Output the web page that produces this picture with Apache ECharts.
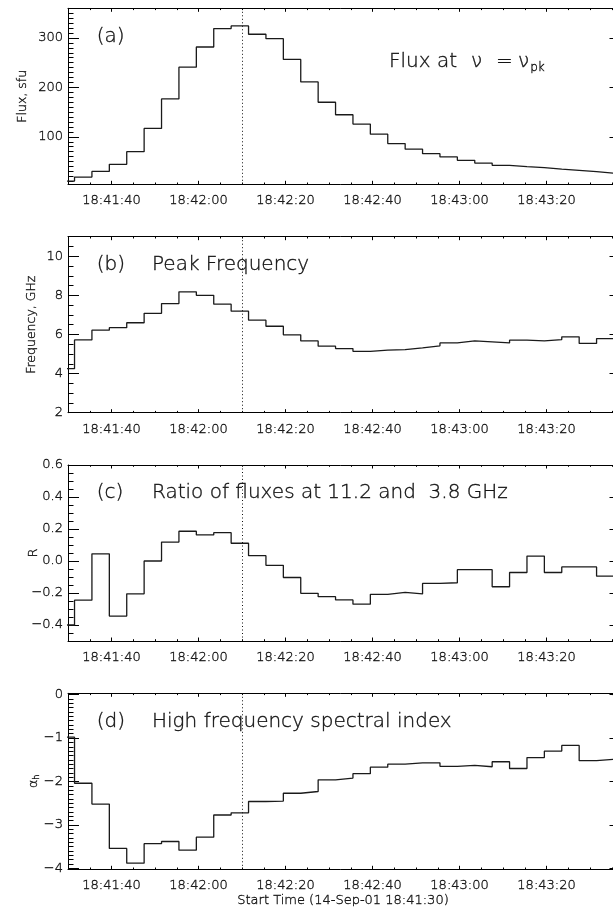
<!DOCTYPE html>
<html>
<head>
<meta charset="utf-8">
<script src="https://cdn.jsdelivr.net/npm/echarts@6/dist/echarts.min.js"></script>
<style>
  html, body { margin: 0; padding: 0; background: #ffffff; }
  #chart { width: 613px; height: 911px; }
</style>
</head>
<body>
<div id="chart"></div>
<script>
// Bin centres in seconds after 18:41:00 (4 s integration bins)
const binCentres = [29.5, 33.5, 37.5, 41.5, 45.5, 49.5, 53.5, 57.5, 61.5, 65.5, 69.5, 73.5,
  77.5, 81.5, 85.5, 89.5, 93.5, 97.5, 101.5, 105.5, 109.5, 113.5, 117.5, 121.5,
  125.5, 129.5, 133.5, 137.5, 141.5, 145.5, 149.5, 153.5];
const binHalfWidth = 2;

// (a) flux at the peak frequency, sfu
const fluxPeak = [10.6, 18.7, 30, 44.5, 70, 117, 176.6, 241, 281.7, 319, 324.4, 307.5,
  298.6, 256.6, 211, 170, 144.7, 125.8, 105.4, 86.4, 75, 66, 59.3, 52.5,
  47, 42.4, 39.7, 37.6, 34.6, 32.2, 29.8, 26.5];
// (b) peak frequency, GHz
const peakFrequency = [4.25, 5.72, 6.22, 6.35, 6.6, 7.08, 7.58, 8.18, 8.0, 7.55, 7.19, 6.73,
  6.42, 5.98, 5.67, 5.4, 5.28, 5.14, 5.2, 5.23, 5.32, 5.42, 5.57, 5.67,
  5.62, 5.57, 5.71, 5.67, 5.74, 5.88, 5.54, 5.79];
// (c) ratio of fluxes at 11.2 and 3.8 GHz
const fluxRatio = [-0.40, -0.245, 0.045, -0.344, -0.205, 0.0, 0.118, 0.186, 0.163, 0.177, 0.111, 0.033,
  -0.027, -0.103, -0.202, -0.223, -0.243, -0.27, -0.208, -0.196, -0.206, -0.14, -0.136, -0.054,
  -0.054, -0.161, -0.072, 0.031, -0.072, -0.037, -0.037, -0.095];
// (d) high frequency spectral index
const spectralIndex = [-0.98, -2.04, -2.52, -3.54, -3.88, -3.43, -3.38, -3.58, -3.28, -2.77, -2.72, -2.46,
  -2.45, -2.27, -2.23, -1.96, -1.92, -1.82, -1.67, -1.6, -1.57, -1.57, -1.65, -1.63,
  -1.66, -1.545, -1.70, -1.45, -1.30, -1.17, -1.52, -1.49];

const markerTime = 70;            // 18:42:10
const timeRange = [30, 157];      // seconds after 18:41:00
const timeTicks = [40, 60, 80, 100, 120, 140];
const timeMinorStep = 5;

const fluxTicks = [100, 200, 300];
const freqTicks = [2, 4, 6, 8, 10];
const ratioTicks = [-0.4, -0.2, 0.0, 0.2, 0.4, 0.6];
const indexTicks = [-4, -3, -2, -1, 0];

const INK = '#141414';
const TICK = '#000000';
const FONT = 'DejaVu Sans';
const WEIGHT = 300;
const STROKE = 0.35;   // slight outline to thicken the light face

const gridLeft = 68, gridWidth = 552.5, gridHeight = 176;
const panelTops = [8.3, 236.7, 465, 693.3];

function fmtTime(t) {
  const total = 18 * 3600 + 41 * 60 + Math.round(t);
  const h = Math.floor(total / 3600);
  const m = Math.floor((total % 3600) / 60);
  const s = total % 60;
  return h + ':' + String(m).padStart(2, '0') + ':' + String(s).padStart(2, '0');
}
const minus = s => String(s).replace('-', '\u2212');

function steps(min, max, step) {
  const out = [];
  const first = Math.ceil(min / step - 1e-9) * step;
  for (let v = first; v <= max + 1e-9; v += step) out.push(Math.round(v * 1000) / 1000);
  return out;
}

const panels = [
  { values: fluxPeak, min: 4, max: 360, ticks: fluxTicks, minor: 10, fmt: v => String(v) },
  { values: peakFrequency, min: 2, max: 11, ticks: freqTicks, minor: 0.5, fmt: v => String(v) },
  { values: fluxRatio, min: -0.5, max: 0.6, ticks: ratioTicks, minor: 0.05, fmt: v => minus(v.toFixed(1)) },
  { values: spectralIndex, min: -4.02, max: 0.03, ticks: indexTicks, minor: 0.1, fmt: v => minus(v.toFixed(0)) }
];

const grids = [], xAxes = [], yAxes = [], series = [];
const timeMinor = steps(timeRange[0], timeRange[1], timeMinorStep);

const labelStyle = {
  color: INK, fontFamily: FONT, fontSize: 13, fontWeight: WEIGHT,
  textBorderColor: INK, textBorderWidth: STROKE
};

function xAxis(i, pos, ticks, len, line, label) {
  return {
    type: 'value', gridIndex: i, position: pos, min: timeRange[0], max: timeRange[1],
    axisLine: { show: line, onZero: false, lineStyle: { color: TICK, width: 1 } },
    axisTick: { show: true, inside: true, length: len, customValues: ticks, lineStyle: { color: TICK, width: 1 } },
    axisLabel: label ? Object.assign({ show: true, customValues: ticks, margin: 10, formatter: fmtTime }, labelStyle)
                     : { show: false },
    splitLine: { show: false }
  };
}
function yAxis(i, p, pos, ticks, len, line, label) {
  return {
    type: 'value', gridIndex: i, position: pos, min: p.min, max: p.max,
    axisLine: { show: line, onZero: false, lineStyle: { color: TICK, width: 1 } },
    axisTick: { show: true, inside: true, length: len, customValues: ticks, lineStyle: { color: TICK, width: 1 } },
    axisLabel: label ? Object.assign({ show: true, customValues: ticks, margin: 5, formatter: p.fmt }, labelStyle)
                     : { show: false },
    splitLine: { show: false }
  };
}

panels.forEach((p, i) => {
  grids.push({ left: gridLeft, top: panelTops[i], width: gridWidth, height: gridHeight,
    outerBoundsMode: 'none' });
  xAxes.push(xAxis(i, 'bottom', timeTicks, 3.5, true, true));
  xAxes.push(xAxis(i, 'bottom', timeMinor, 1.8, false, false));
  xAxes.push(xAxis(i, 'top', timeTicks, 3.5, true, false));
  xAxes.push(xAxis(i, 'top', timeMinor, 1.8, false, false));
  const minor = steps(p.min, p.max, p.minor).filter(v => p.ticks.indexOf(v) < 0);
  yAxes.push(yAxis(i, p, 'left', p.ticks, 11, true, true));
  yAxes.push(yAxis(i, p, 'left', minor, 5.5, false, false));
  yAxes.push(yAxis(i, p, 'right', p.ticks, 11, true, false));
  yAxes.push(yAxis(i, p, 'right', minor, 5.5, false, false));

  // histogram-style steps: each bin drawn from its left edge to its right edge
  const last = p.values.length - 1;
  const data = p.values.map((v, k) => [binCentres[k] - binHalfWidth, v]);
  data.push([binCentres[last] + binHalfWidth, p.values[last]]);

  series.push({
    type: 'line', xAxisIndex: i * 4, yAxisIndex: i * 4, step: 'end',
    data: data, showSymbol: false, symbol: 'none', clip: true, silent: true,
    lineStyle: { color: '#1a1a1a', width: 1.3 },
    markLine: {
      silent: true, symbol: ['none', 'none'], label: { show: false },
      lineStyle: { color: '#111', width: 1, type: [1, 2.5] },
      data: [{ xAxis: markerTime }]
    }
  });
});

const fontOf = (size, style) => (style ? style + ' ' : '') + WEIGHT + ' ' + size + 'px "' + FONT + '"';
const txt = (x, y, text, size) => ({
  type: 'text', x: x, y: y, silent: true,
  style: { text: text, fill: INK, stroke: INK, lineWidth: STROKE, font: fontOf(size),
    textAlign: 'left', textVerticalAlign: 'middle' }
});
const vtxt = (x, y, text, size) => ({
  type: 'text', x: x, y: y, rotation: Math.PI / 2, silent: true,
  style: { text: text, fill: INK, stroke: INK, lineWidth: STROKE, font: fontOf(size),
    textAlign: 'center', textVerticalAlign: 'middle' }
});
const richPart = (size, extra) => Object.assign({ fill: INK, stroke: INK, lineWidth: STROKE, font: fontOf(size) }, extra || {});

const big = 20;
const labelRow = 28;
const graphics = [
  txt(96.7, panelTops[0] + labelRow, '(a)', big),
  txt(96.7, panelTops[1] + labelRow, '(b)', big),
  txt(96.7, panelTops[2] + labelRow, '(c)', big),
  txt(96.7, panelTops[3] + labelRow, '(d)', big),
  txt(152, panelTops[1] + labelRow, 'Peak Frequency', big),
  txt(152, panelTops[2] + labelRow, 'Ratio of fluxes at 11.2 and  3.8 GHz', big),
  txt(152, panelTops[3] + labelRow, 'High frequency spectral index', big),
  txt(389, 62, 'Flux at', big),
  txt(471, 62, '\u03bd', big),
  txt(496, 62, '=', big),
  {
    type: 'text', x: 518, y: 62, silent: true,
    style: { text: '{g|\u03bd}{s|pk}', textAlign: 'left', textVerticalAlign: 'middle',
      rich: { g: richPart(big), s: richPart(12, { padding: [12, 0, 0, 1] }) } }
  },
  // y-axis titles
  vtxt(22.5, panelTops[0] + gridHeight / 2, 'Flux, sfu', 12.5),
  vtxt(31.7, panelTops[1] + gridHeight / 2, 'Frequency, GHz', 12.5),
  vtxt(34, panelTops[2] + gridHeight / 2, 'R', 12.5),
  {
    type: 'text', x: 34, y: panelTops[3] + gridHeight / 2, rotation: Math.PI / 2, silent: true,
    style: { text: '{a|\u03b1}{h|h}', textAlign: 'center', textVerticalAlign: 'middle',
      rich: { a: richPart(12.5), h: richPart(8, { padding: [6, 0, 0, 0] }) } }
  },
  {
    type: 'text', x: 343, y: 900.7, silent: true,
    style: { text: 'Start Time (14-Sep-01 18:41:30)', fill: INK, stroke: INK, lineWidth: STROKE,
      font: fontOf(13), textAlign: 'center', textVerticalAlign: 'middle' }
  }
];

const chart = echarts.init(document.getElementById('chart'), null, { renderer: 'canvas' });
chart.setOption({
  animation: false,
  backgroundColor: '#ffffff',
  grid: grids,
  xAxis: xAxes,
  yAxis: yAxes,
  series: series,
  graphic: graphics
});
</script>
</body>
</html>
